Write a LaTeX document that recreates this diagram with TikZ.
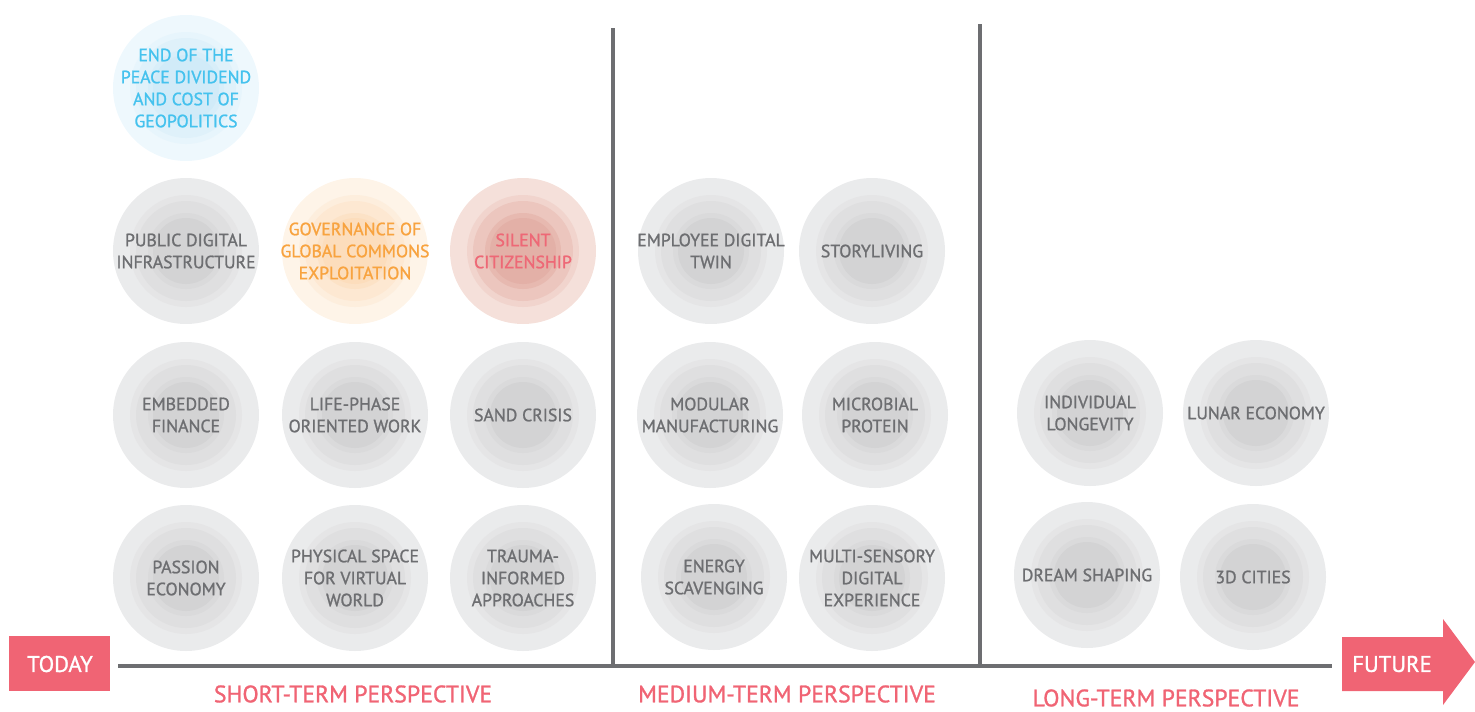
\documentclass[tikz,border=0pt]{standalone}
\usepackage{fontspec}
\setmainfont{PT Sans}[BoldFont={PT Sans},BoldFeatures={FakeBold=1.2}]
% ring palettes (outer to centre) and text colours
\definecolor{grayA}{HTML}{EAEBEC}
\definecolor{grayB}{HTML}{E5E5E6}
\definecolor{grayC}{HTML}{DFDFE0}
\definecolor{grayD}{HTML}{DADADB}
\definecolor{grayE}{HTML}{D3D3D4}
\definecolor{grayT}{HTML}{6D6E71}
\definecolor{blueA}{HTML}{EEF8FD}
\definecolor{blueB}{HTML}{E7F5FC}
\definecolor{blueC}{HTML}{DFF1FA}
\definecolor{blueD}{HTML}{D8EEF9}
\definecolor{blueE}{HTML}{D1EBF8}
\definecolor{blueT}{HTML}{45C2EE}
\definecolor{orngA}{HTML}{FEF4E8}
\definecolor{orngB}{HTML}{FDEEDD}
\definecolor{orngC}{HTML}{FDE8D2}
\definecolor{orngD}{HTML}{FCE2C6}
\definecolor{orngE}{HTML}{FCDDBC}
\definecolor{orngT}{HTML}{F8A33F}
\definecolor{redA}{HTML}{F5E0DA}
\definecolor{redB}{HTML}{F1D4CD}
\definecolor{redC}{HTML}{ECC6BE}
\definecolor{redD}{HTML}{E7B9B0}
\definecolor{redE}{HTML}{E3B0A7}
\definecolor{redT}{HTML}{EE6876}
\definecolor{accent}{HTML}{F06474}
\definecolor{axis}{HTML}{6D6E71}

% #1 node name, #2 x, #3 y, #4 palette, #5 text
\newcommand\drawbubble[5]{%
  \fill[#4A] (#2,#3) circle[radius=54.75pt];
  \fill[#4B] (#2,#3) circle[radius=42pt];
  \fill[#4C] (#2,#3) circle[radius=37.5pt];
  \fill[#4D] (#2,#3) circle[radius=28.5pt];
  \fill[#4E] (#2,#3) circle[radius=24.75pt];
  \node[bubtext,text=#4T] (#1) at (#2,#3) {#5};
}

\begin{document}
\begin{tikzpicture}[x=0.75pt,y=-0.75pt,
  bubtext/.style={align=center,inner sep=0pt,font=\fontsize{13.3}{16.5}\selectfont\bfseries},
  termlabel/.style={text=accent,inner sep=0pt,font=\fontsize{17.8}{20}\selectfont\bfseries},
  tagbox/.style={fill=accent,text=white,inner sep=0pt,font=\fontsize{17}{19}\selectfont\bfseries},
  axisline/.style={draw=axis,line width=3.6pt},
  divider/.style={draw=axis,line width=3pt}]
\useasboundingbox (0,0) rectangle (1475,711);

% short-term column
\drawbubble{peace}{186}{88}{blue}{END OF THE\\PEACE DIVIDEND\\AND COST OF\\GEOPOLITICS}
\drawbubble{pdi}{186}{251}{gray}{PUBLIC DIGITAL\\INFRASTRUCTURE}
\drawbubble{commons}{355}{251}{orng}{GOVERNANCE OF\\GLOBAL COMMONS\\EXPLOITATION}
\drawbubble{silent}{523}{251}{red}{SILENT\\CITIZENSHIP}
\drawbubble{finance}{186}{415}{gray}{EMBEDDED\\FINANCE}
\drawbubble{lifephase}{355}{415}{gray}{LIFE-PHASE\\ORIENTED WORK}
\drawbubble{sand}{523}{415}{gray}{SAND CRISIS}
\drawbubble{passion}{186}{578}{gray}{PASSION\\ECONOMY}
\drawbubble{physical}{355}{578}{gray}{PHYSICAL SPACE\\FOR VIRTUAL\\WORLD}
\drawbubble{trauma}{523}{578}{gray}{TRAUMA-\\INFORMED\\APPROACHES}

% medium-term column
\drawbubble{twin}{711}{251}{gray}{EMPLOYEE DIGITAL\\TWIN}
\drawbubble{story}{872}{251}{gray}{STORYLIVING}
\drawbubble{modular}{710}{415}{gray}{MODULAR\\MANUFACTURING}
\drawbubble{protein}{875}{415}{gray}{MICROBIAL\\PROTEIN}
\drawbubble{energy}{714}{577}{gray}{ENERGY\\SCAVENGING}
\drawbubble{sensory}{872}{578}{gray}{MULTI-SENSORY\\DIGITAL\\EXPERIENCE}

% long-term column
\drawbubble{longevity}{1090}{413}{gray}{INDIVIDUAL\\LONGEVITY}
\drawbubble{lunar}{1256}{413}{gray}{LUNAR ECONOMY}
\drawbubble{dream}{1087}{575}{gray}{DREAM SHAPING}
\drawbubble{cities}{1253}{577}{gray}{3D CITIES}

% dividers between the perspectives
\coordinate (d1top) at (613,28);
\coordinate (d1bot) at (613,665);
\coordinate (d2top) at (980,24);
\coordinate (d2bot) at (980,665);
\draw[divider] (d1top) -- (d1bot);
\draw[divider] (d2top) -- (d2bot);

% timeline
\fill[accent] (9,636) rectangle (110,691);
\node[tagbox] (today) at (60,664) {TODAY};
\fill[accent] (1342,637) -- (1443,637) -- (1443,619) -- (1475,662)
  -- (1443,705) -- (1443,691) -- (1342,691) -- cycle;
\node[tagbox] (future) at (1392,664) {FUTURE};
\coordinate (axstart) at (118,666);
\coordinate (axend) at (1332,666);
\draw[axisline] (axstart) -- (axend);

% perspective labels
\node[termlabel] (shortlbl) at (353,694) {SHORT-TERM PERSPECTIVE};
\node[termlabel] (medlbl) at (787,694) {MEDIUM-TERM PERSPECTIVE};
\node[termlabel] (longlbl) at (1166,698) {LONG-TERM PERSPECTIVE};
\end{tikzpicture}
\end{document}
